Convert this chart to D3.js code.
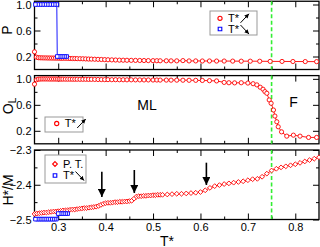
<!DOCTYPE html>
<html>
<head>
<meta charset="utf-8">
<script src="https://cdn.jsdelivr.net/npm/d3@7.9.0/dist/d3.min.js"></script>
<style>
  body { margin: 0; background: #fff; }
  svg { display: block; font-family: "Liberation Sans", Arial, sans-serif; }
</style>
</head>
<body>
<div id="chart"></div>
<script>
// ---------- data ----------
// panel 1: order parameter P, heating (red) and cooling (blue)
const tempP = [0.250, 0.254, 0.258, 0.262, 0.266, 0.270, 0.274, 0.278, 0.282, 0.286,
  0.290, 0.294, 0.298, 0.302, 0.306, 0.310, 0.315, 0.320, 0.325, 0.330,
  0.335, 0.340, 0.346, 0.352, 0.358, 0.364, 0.370, 0.377, 0.384, 0.391,
  0.398, 0.405, 0.413, 0.421, 0.429, 0.437, 0.445, 0.454, 0.463, 0.472,
  0.481, 0.490, 0.500, 0.508, 0.515, 0.528, 0.538, 0.550, 0.563, 0.576,
  0.590, 0.604, 0.619, 0.634, 0.650, 0.668, 0.686, 0.705, 0.725, 0.747,
  0.772, 0.795, 0.821, 0.845];
const pUp = [0.272, 0.190, 0.182, 0.180, 0.179, 0.178, 0.178, 0.177, 0.177, 0.176,
  0.176, 0.175, 0.175, 0.174, 0.173, 0.173, 0.172, 0.171, 0.170, 0.169,
  0.168, 0.167, 0.166, 0.165, 0.163, 0.161, 0.160, 0.158, 0.156, 0.154,
  0.152, 0.150, 0.148, 0.146, 0.144, 0.143, 0.142, 0.141, 0.140, 0.139,
  0.138, 0.137, 0.136, 0.135, 0.134, 0.134, 0.133, 0.133, 0.137, 0.132,
  0.132, 0.131, 0.131, 0.130, 0.130, 0.129, 0.128, 0.128, 0.127, 0.125,
  0.124, 0.123, 0.122, 0.121];
const tempPcool = [0.318, 0.314, 0.310, 0.306, 0.302, 0.298, 0.297, 0.292, 0.287, 0.282,
  0.277, 0.272, 0.267, 0.262, 0.257, 0.252];
const pDown = [0.20, 0.20, 0.20, 0.20, 0.20, 0.20, 1.00, 1.00, 1.00, 1.00,
  1.00, 1.00, 1.00, 1.00, 1.00, 1.00];

// panel 2: O_L on heating
const tempO = [0.250, 0.254, 0.258, 0.262, 0.266, 0.270, 0.274, 0.278, 0.282, 0.286,
  0.290, 0.294, 0.298, 0.302, 0.306, 0.310, 0.315, 0.320, 0.325, 0.330,
  0.335, 0.340, 0.346, 0.352, 0.358, 0.364, 0.370, 0.377, 0.384, 0.391,
  0.398, 0.405, 0.413, 0.421, 0.429, 0.437, 0.445, 0.454, 0.463, 0.472,
  0.481, 0.490, 0.500, 0.508, 0.515, 0.528, 0.538, 0.550, 0.563, 0.576,
  0.590, 0.604, 0.619, 0.634, 0.650, 0.660, 0.672, 0.686, 0.700, 0.711,
  0.719, 0.726, 0.732, 0.736, 0.740, 0.745, 0.749, 0.754, 0.757, 0.761,
  0.764, 0.771, 0.782, 0.796, 0.810, 0.828, 0.845];
const oUp = [0.918, 0.985, 0.995, 0.997, 0.998, 0.998, 0.998, 0.998, 0.997, 0.997,
  0.997, 0.997, 0.996, 0.996, 0.996, 0.996, 0.995, 0.995, 0.995, 0.994,
  0.994, 0.994, 0.993, 0.993, 0.993, 0.992, 0.992, 0.991, 0.990, 0.989,
  0.988, 0.988, 0.987, 0.987, 0.986, 0.986, 0.985, 0.985, 0.984, 0.984,
  0.983, 0.983, 0.982, 0.982, 0.981, 0.981, 0.980, 0.980, 0.979, 0.978,
  0.977, 0.975, 0.972, 0.968, 0.945, 0.940, 0.938, 0.940, 0.935, 0.925,
  0.907, 0.871, 0.840, 0.803, 0.778, 0.675, 0.624, 0.520, 0.427, 0.339,
  0.262, 0.184, 0.118, 0.133, 0.118, 0.098, 0.098];

// panel 3: energy per particle, P. T. (red) and cooling (blue)
const tempH = [0.250, 0.255, 0.260, 0.265, 0.270, 0.275, 0.280, 0.285, 0.290, 0.295,
  0.300, 0.305, 0.310, 0.315, 0.320, 0.325, 0.330, 0.335, 0.340, 0.345,
  0.350, 0.355, 0.360, 0.365, 0.370, 0.375, 0.380, 0.385, 0.390, 0.395,
  0.400, 0.405, 0.410, 0.415, 0.420, 0.425, 0.430, 0.435, 0.440, 0.445,
  0.450, 0.455, 0.460, 0.465, 0.470, 0.475, 0.480, 0.485, 0.490, 0.495,
  0.500, 0.505, 0.510, 0.515, 0.520, 0.530, 0.540, 0.550, 0.560, 0.570,
  0.580, 0.590, 0.600, 0.610, 0.620, 0.630, 0.640, 0.650, 0.660, 0.670,
  0.680, 0.690, 0.700, 0.710, 0.720, 0.730, 0.740, 0.750, 0.760, 0.770,
  0.780, 0.790, 0.800, 0.810, 0.820, 0.830, 0.840, 0.850];
const hPT = [-2.484, -2.483, -2.482, -2.481, -2.480, -2.480, -2.479, -2.478, -2.477, -2.477,
  -2.476, -2.475, -2.474, -2.474, -2.473, -2.472, -2.471, -2.471, -2.470, -2.469,
  -2.468, -2.467, -2.467, -2.466, -2.465, -2.464, -2.463, -2.461, -2.458, -2.455,
  -2.453, -2.452, -2.452, -2.451, -2.450, -2.450, -2.449, -2.449, -2.448, -2.448,
  -2.447, -2.446, -2.440, -2.434, -2.433, -2.433, -2.432, -2.432, -2.431, -2.431,
  -2.430, -2.430, -2.429, -2.429, -2.429, -2.428, -2.427, -2.426, -2.426, -2.425,
  -2.424, -2.423, -2.421, -2.416, -2.409, -2.404, -2.401, -2.398, -2.396, -2.394,
  -2.392, -2.390, -2.387, -2.384, -2.383, -2.377, -2.368, -2.359, -2.354, -2.350,
  -2.347, -2.344, -2.341, -2.337, -2.333, -2.329, -2.325, -2.321];
const tempHcool = [0.320, 0.316, 0.312, 0.308, 0.304, 0.300, 0.296, 0.292, 0.288, 0.284,
  0.280, 0.276, 0.272, 0.268, 0.264, 0.260, 0.256, 0.252];
const hDown = [-2.483, -2.483, -2.483, -2.483, -2.483, -2.483, -2.499, -2.499, -2.499, -2.499,
  -2.499, -2.499, -2.499, -2.499, -2.499, -2.499, -2.499, -2.499];

// jumps marked by arrows in panel 3
const jumpT = [0.392, 0.4605, 0.6125];
const jumpFrom = [-2.3625, -2.3576, -2.3365];
const jumpTo = [-2.435, -2.4237, -2.4007];

const transitionT = 0.75;

// ticks
const xMajor = [0.3, 0.4, 0.5, 0.6, 0.7, 0.8];
const xMinor = [0.35, 0.45, 0.55, 0.65, 0.75];
const pMajor = [0.2, 0.6, 1.0];
const pMinor = [0.4, 0.8];
const hMajor = [-2.5, -2.4, -2.3];
const hMinor = [-2.45, -2.35];

// ---------- drawing ----------
const width = 320, height = 247;
const red = "#ff0000", blue = "#0000ff", green = "#33ee33";

const svg = d3.select("#chart").append("svg")
  .attr("width", width)
  .attr("height", height);

const defs = svg.append("defs");
defs.append("marker")
  .attr("id", "bigArrow")
  .attr("viewBox", "0 0 10 10")
  .attr("refX", 10).attr("refY", 5)
  .attr("markerUnits", "userSpaceOnUse")
  .attr("markerWidth", 8).attr("markerHeight", 8)
  .attr("orient", "auto")
  .append("path").attr("d", "M0,0 L10,5 L0,10 z").attr("fill", "#000");
defs.append("marker")
  .attr("id", "smallArrow")
  .attr("viewBox", "0 0 10 10")
  .attr("refX", 10).attr("refY", 5)
  .attr("markerUnits", "userSpaceOnUse")
  .attr("markerWidth", 4.5).attr("markerHeight", 4.5)
  .attr("orient", "auto")
  .append("path").attr("d", "M0,0 L10,5 L0,10 z").attr("fill", "#000");

const x = d3.scaleLinear().domain([0.25, 0.85]).range([34.5, 319]);
const yP = d3.scaleLinear().domain([0, 1.05]).range([69.5, 1.25]);
const yO = d3.scaleLinear().domain([0, 1.05]).range([143.8, 75.6]);
const yH = d3.scaleLinear().domain([-2.5, -2.3]).range([219.5, 150]);

function drawFrame(y, yFmt, showX) {
  const g = svg.append("g");
  const [x0, x1] = x.range();
  const [yb, yt] = y.range();
  const clean = a => a.call(s => s.select(".domain").remove())
    .call(s => s.selectAll(".tick line").attr("stroke", "#000"))
    .call(s => s.selectAll(".tick text").attr("fill", "#000").style("font-size", "11px"));

  // left / right
  g.append("g").attr("transform", `translate(${x0},0)`)
    .call(d3.axisLeft(y).tickValues(pickMajor(y)).tickSize(-6).tickPadding(3).tickFormat(yFmt)).call(clean);
  g.append("g").attr("transform", `translate(${x0},0)`)
    .call(d3.axisLeft(y).tickValues(pickMinor(y)).tickSize(-3).tickFormat("")).call(clean);
  g.append("g").attr("transform", `translate(${x1},0)`)
    .call(d3.axisRight(y).tickValues(pickMajor(y)).tickSize(-6).tickFormat("")).call(clean);
  g.append("g").attr("transform", `translate(${x1},0)`)
    .call(d3.axisRight(y).tickValues(pickMinor(y)).tickSize(-3).tickFormat("")).call(clean);
  // top / bottom
  g.append("g").attr("transform", `translate(0,${yb})`)
    .call(d3.axisBottom(x).tickValues(xMajor).tickSize(-6).tickPadding(4)
      .tickFormat(showX ? d3.format(".1f") : "")).call(clean);
  g.append("g").attr("transform", `translate(0,${yb})`)
    .call(d3.axisBottom(x).tickValues(xMinor).tickSize(-3).tickFormat("")).call(clean);
  g.append("g").attr("transform", `translate(0,${yt})`)
    .call(d3.axisTop(x).tickValues(xMajor).tickSize(-6).tickFormat("")).call(clean);
  g.append("g").attr("transform", `translate(0,${yt})`)
    .call(d3.axisTop(x).tickValues(xMinor).tickSize(-3).tickFormat("")).call(clean);

  g.append("rect")
    .attr("x", x0).attr("y", yt)
    .attr("width", x1 - x0).attr("height", yb - yt)
    .attr("fill", "none").attr("stroke", "#000").attr("stroke-width", 1.3);

  // transition line
  g.append("line")
    .attr("x1", x(transitionT)).attr("x2", x(transitionT))
    .attr("y1", yt).attr("y2", yb)
    .attr("stroke", green).attr("stroke-width", 1.6)
    .attr("stroke-dasharray", "4,2.5");
  return g;
}
function pickMajor(y) { return y === yH ? hMajor : pMajor; }
function pickMinor(y) { return y === yH ? hMinor : pMinor; }

function series(g, ts, vs, y, color, shape) {
  const pts = ts.map((t, i) => [x(t), y(vs[i])]);
  g.append("path")
    .attr("d", d3.line()(pts))
    .attr("fill", "none").attr("stroke", color).attr("stroke-width", 0.9);
  g.append("g").selectAll("path").data(pts).join("path")
    .attr("transform", d => `translate(${d[0]},${d[1]})`)
    .attr("fill", "#fff").attr("stroke", color).attr("stroke-width", 0.9)
    .attr("d", shapePath(shape));
}
function shapePath(shape) {
  if (shape === "circle") return "M2.1,0A2.1,2.1 0 1,1 -2.1,0A2.1,2.1 0 1,1 2.1,0Z";
  if (shape === "square") return "M-1.8,-1.8H1.8V1.8H-1.8Z";
  return "M0,-2.4L2.4,0L0,2.4L-2.4,0Z";
}

function legendBox(bx, by, bw, bh) {
  svg.append("rect").attr("x", bx).attr("y", by).attr("width", bw).attr("height", bh)
    .attr("fill", "#fff").attr("stroke", "#999").attr("stroke-width", 1);
}
function legendItem(mx, my, color, shape, label, arrowDir) {
  svg.append("path").attr("transform", `translate(${mx},${my})`)
    .attr("d", shapePath(shape)).attr("fill", "#fff").attr("stroke", color).attr("stroke-width", 1.1);
  const tx = svg.append("text").attr("x", mx + 8).attr("y", my + 3.8)
    .style("font-size", "11px").attr("fill", "#000").text(label);
  if (arrowDir) {
    const ax = mx + 8 + tx.node().getComputedTextLength() + 1.5;
    const up = arrowDir === "up";
    svg.append("line")
      .attr("x1", ax).attr("y1", up ? my + 4.5 : my - 4)
      .attr("x2", ax + 8.5).attr("y2", up ? my - 4.5 : my + 5)
      .attr("stroke", "#000").attr("stroke-width", 1)
      .attr("marker-end", "url(#smallArrow)");
  }
}

// panel 1
const g1 = drawFrame(yP, d3.format(".1f"), false);
series(g1, tempP, pUp, yP, red, "circle");
series(g1, tempPcool, pDown, yP, blue, "square");

// panel 2
const g2 = drawFrame(yO, d3.format(".1f"), false);
series(g2, tempO, oUp, yO, red, "circle");

// panel 3
const g3 = drawFrame(yH, d3.format(".1f"), true);
series(g3, tempH, hPT, yH, red, "diamond");
series(g3, tempHcool, hDown, yH, blue, "square");
jumpT.forEach((t, i) => {
  g3.append("line")
    .attr("x1", x(t)).attr("x2", x(t))
    .attr("y1", yH(jumpFrom[i])).attr("y2", yH(jumpTo[i]))
    .attr("stroke", "#000").attr("stroke-width", 1.6)
    .attr("marker-end", "url(#bigArrow)");
});

// legends
legendBox(210, 11, 47, 24);
legendItem(220, 18.3, red, "circle", "T*", "up");
legendItem(220, 29, blue, "square", "T*", "down");

legendBox(45, 117, 38, 15);
legendItem(56.7, 123.5, red, "circle", "T*", "up");

legendBox(45, 155, 41, 28);
legendItem(55, 164, red, "diamond", "P. T.", null);
legendItem(55, 175.5, blue, "square", "T*", "down");

// region labels
svg.append("text").attr("x", 147).attr("y", 110).attr("text-anchor", "middle")
  .style("font-size", "14px").text("ML");
svg.append("text").attr("x", 293.5).attr("y", 107).attr("text-anchor", "middle")
  .style("font-size", "14px").text("F");

// axis titles
svg.append("text").attr("transform", "translate(12,30) rotate(-90)")
  .attr("text-anchor", "middle").style("font-size", "14px").text("P");
const oTitle = svg.append("text").attr("transform", "translate(12.5,106) rotate(-90)")
  .attr("text-anchor", "middle").style("font-size", "14px");
oTitle.append("tspan").text("O");
oTitle.append("tspan").attr("dy", 3).style("font-size", "10px").text("L");
svg.append("text").attr("transform", "translate(12.5,190) rotate(-90)")
  .attr("text-anchor", "middle").style("font-size", "14px").text("H*/M");
svg.append("text").attr("x", 167).attr("y", 245.5).attr("text-anchor", "middle")
  .style("font-size", "14px").text("T*");
</script>
</body>
</html>
